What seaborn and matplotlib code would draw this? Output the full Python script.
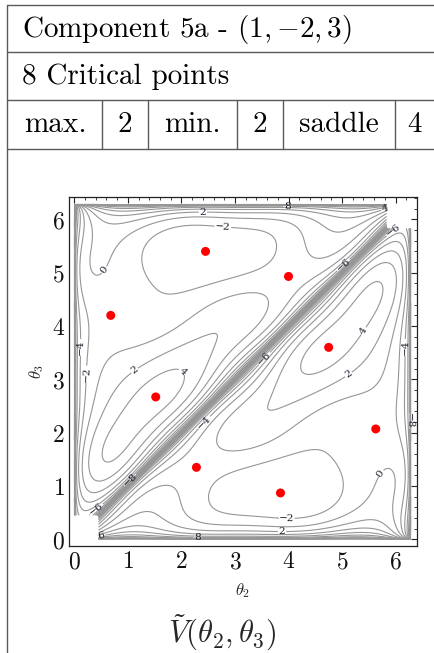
import numpy as np
import pandas as pd
import matplotlib
matplotlib.use("Agg")
import matplotlib.pyplot as plt
from matplotlib.lines import Line2D
import seaborn as sns

# ---------------- data ----------------
header_rows = ["Component 5a - $(1,{-2},3)$", "8 Critical points"]
count_names = ["max.", "min.", "saddle"]
count_values = [2, 2, 4]

# critical points (red dots)
crit_x = [2.45, 3.85, 4.75, 1.52, 4.00, 2.28, 0.68, 5.63]
crit_y = [5.40, 0.87, 3.60, 2.67, 4.93, 1.35, 4.20, 2.07]
crit_kind = ["min", "min", "max", "max", "saddle", "saddle", "saddle", "saddle"]
crit_value = [-3.8, -3.8, 5.0, 5.0, -1.0, -1.0, -1.0, -1.0]

# contour label positions and their values
label_x = [0.69, 2.78, 2.40, 3.98, 5.81, 5.95, 5.02, 3.56, 5.24, 6.13, 5.17, 2.44,
           1.04, 2.06, 1.08, 0.09, 0.28, 0.40, 0.50, 2.30, 3.88, 3.96, 5.60, 6.25]
label_y = [4.96, 5.93, 6.15, 6.24, 6.18, 5.80, 5.15, 3.38, 4.02, 3.60, 3.02, 2.18,
           1.11, 3.19, 3.23, 3.60, 3.10, 0.57, 0.08, 0.04, 0.12, 0.42, 1.32, 2.22]
label_v = [0, -2, 2, 8, 4, -8, -6, -6, 4, -2, 2, -4,
           -8, 4, 2, -6, -2, -4, 4, 8, 2, -2, 0, -6]

# extra traced contour points (x, y, level)
trace_x = [1.43, 3.37, 1.88, 1.08, 2.38, 4.50, 2.95, 0.42]
trace_y = [4.77, 5.77, 4.58, 2.24, 6.02, 5.30, 2.05, 5.50]
trace_v = [-2, -2, -2, 4, 0, 0, 2, 0]

tick_values = [0, 1, 2, 3, 4, 5, 6]
contour_levels = list(range(-20, 21, 2))

# ---------------- field construction ----------------
FREQS = [(0, 1), (0, 2), (0, 3)] + [(m, n) for m in (1, 2, 3) for n in range(-3, 4)]
SING_PRIOR = [-3.5, 5.6, -4.2]


def sing(t):
    return -np.log(2.0 * np.maximum(np.abs(np.sin(t / 2.0)), 1e-9))


def feats(x, y):
    x = np.asarray(x, float)
    y = np.asarray(y, float)
    cols = [np.ones_like(x), sing(x), sing(y), sing(x - y)]
    cols += [np.cos(m * x + n * y) for m, n in FREQS]
    return np.stack(cols, -1)


def dfeats(x, y, h=1e-4):
    x = np.asarray(x, float)
    y = np.asarray(y, float)
    return ((feats(x + h, y) - feats(x - h, y)) / (2 * h),
            (feats(x, y + h) - feats(x, y - h)) / (2 * h))


def fit(lam):
    rows, rhs = [], []
    cx, cy = np.array(crit_x), np.array(crit_y)
    gx, gy = dfeats(cx, cy)
    wg = 10.0
    for i in range(len(cx)):
        rows.append(wg * gx[i]); rhs.append(0.0)
        rows.append(wg * gy[i]); rhs.append(0.0)
        rows.append(3.0 * feats(cx[i], cy[i])); rhs.append(3.0 * crit_value[i])
    allx = np.array(label_x + trace_x)
    ally = np.array(label_y + trace_y)
    allv = np.array(label_v + trace_v, float)
    Fm = feats(allx, ally)
    for i in range(len(allx)):
        edge = min(allx[i], ally[i], 2 * np.pi - allx[i], 2 * np.pi - ally[i])
        w = 1.5 / (1.0 + abs(allv[i]) / 6.0) * min(1.0, edge / 0.15 + 0.3)
        rows.append(w * Fm[i]); rhs.append(w * allv[i])
    nb = 4 + len(FREQS)
    for k in range(3):
        r = np.zeros(nb); r[1 + k] = 1.0
        rows.append(r); rhs.append(1.0 * SING_PRIOR[k])
    for k, (m, n) in enumerate(FREQS):
        r = np.zeros(nb); r[4 + k] = lam * (m * m + n * n)
        rows.append(r); rhs.append(0.0)
    coef, *_ = np.linalg.lstsq(np.array(rows), np.array(rhs), rcond=None)
    return coef


def field(x, y, coef):
    return feats(x, y) @ coef


def types_ok(coef, h=1e-3):
    for x, y, k in zip(crit_x, crit_y, crit_kind):
        f = lambda a, b: field(a, b, coef)
        fxx = (f(x + h, y) - 2 * f(x, y) + f(x - h, y)) / h ** 2
        fyy = (f(x, y + h) - 2 * f(x, y) + f(x, y - h)) / h ** 2
        fxy = (f(x + h, y + h) - f(x + h, y - h) - f(x - h, y + h) + f(x - h, y - h)) / (4 * h * h)
        det = fxx * fyy - fxy ** 2
        if k == "saddle" and det >= 0:
            return False
        if k == "max" and not (det > 0 and fxx < 0):
            return False
        if k == "min" and not (det > 0 and fxx > 0):
            return False
    return True


coef = None
for lam in [0.05, 0.08, 0.12, 0.2, 0.3, 0.03, 0.02, 0.01]:
    c = fit(lam)
    if types_ok(c):
        coef = c
        break
if coef is None:
    coef = fit(0.05)

N = 601
gxs = np.linspace(0.0005, 2 * np.pi - 0.0005, N)
gys = np.linspace(0.0011, 2 * np.pi - 0.0011, N)
X, Y = np.meshgrid(gxs, gys)
V = field(X, Y, coef)
V = np.clip(V, -60, 60)
cut = 2 * np.pi / 14
V[(X < cut) & (Y < cut)] = np.nan
V[(X > 2 * np.pi - cut) & (Y > 2 * np.pi - cut)] = np.nan

# ---------------- figure ----------------
sns.set_theme(style="white")
plt.rcParams["mathtext.fontset"] = "cm"
plt.rcParams["font.family"] = ["DejaVu Serif", "DejaVu Sans"]

W, H = 435, 653
fig = plt.figure(figsize=(W / 100, H / 100), dpi=100)
fig.patch.set_facecolor("white")

tab = fig.add_axes([0, 0, 1, 1])
tab.set_xlim(0, W)
tab.set_ylim(H, 0)
tab.axis("off")
lc = "#5a5a5a"
for yy in [5, 52, 100, 149]:
    tab.add_line(Line2D([7.3, W], [yy, yy], color=lc, lw=1.0))
tab.add_line(Line2D([7.3, 7.3], [5, H], color=lc, lw=1.0))
for xx in [102, 148, 237, 283, 395]:
    tab.add_line(Line2D([xx, xx], [100, 149], color=lc, lw=1.0))
fs = 21
tab.text(22, 29, header_rows[0], fontsize=fs, va="center", ha="left", color="black",
         family="cmr10")
tab.text(22, 77, header_rows[1], fontsize=fs, va="center", ha="left", color="black",
         family="cmr10")
cells = [(55, count_names[0]), (125, str(count_values[0])), (192, count_names[1]),
         (260, str(count_values[1])), (339, count_names[2]), (415, str(count_values[2]))]
for xx, t in cells:
    tab.text(xx, 125, t, fontsize=fs, va="center", ha="center", color="black",
             family="cmr10")
tab.text(222, 633, r"$\tilde{V}(\theta_2,\theta_3)$", fontsize=22, ha="center", va="center")

ax = fig.add_axes([69 / W, 1 - 546 / H, (417 - 69) / W, (546 - 197) / H])
cs = ax.contour(X, Y, V, levels=contour_levels, colors="#969696", linewidths=0.8,
                negative_linestyles="solid")
ax.clabel(cs, manual=list(zip(label_x, label_y)), inline=True, inline_spacing=1,
          fontsize=7.5, colors="#1a1a2a",
          fmt=lambda v: f"{v:.0f}".replace("-", "\u2212"))

pts = pd.DataFrame({"theta2": crit_x, "theta3": crit_y, "kind": crit_kind})
sns.scatterplot(data=pts, x="theta2", y="theta3", color="#ff0000", s=42,
                edgecolor="none", ax=ax, legend=False, zorder=5)

ax.set_xlim(-0.1, 6.40)
ax.set_ylim(-0.125, 6.42)
ax.set_xticks(tick_values)
ax.set_yticks(tick_values)
ax.set_xticklabels([rf"${t}$" for t in tick_values], fontsize=17)
ax.set_yticklabels([rf"${t}$" for t in tick_values], fontsize=17)
ax.set_xticks(np.arange(0, 6.41, 0.2), minor=True)
ax.set_yticks(np.arange(0, 6.41, 0.2), minor=True)
ax.tick_params(which="major", direction="in", length=4, width=0.8, top=True, right=True,
               pad=3, colors="#222222", labelcolor="#111111")
ax.tick_params(which="minor", direction="in", length=2, width=0.6, top=True, right=True,
               colors="#222222")
for sp in ax.spines.values():
    sp.set_color("#222222")
    sp.set_linewidth(0.9)
ax.set_xlabel(r"$\theta_2$", fontsize=12, labelpad=6)
ax.set_ylabel(r"$\theta_3$", fontsize=12, labelpad=4)
ax.set_facecolor("white")

fig.savefig("out.png", dpi=100, facecolor="white")
